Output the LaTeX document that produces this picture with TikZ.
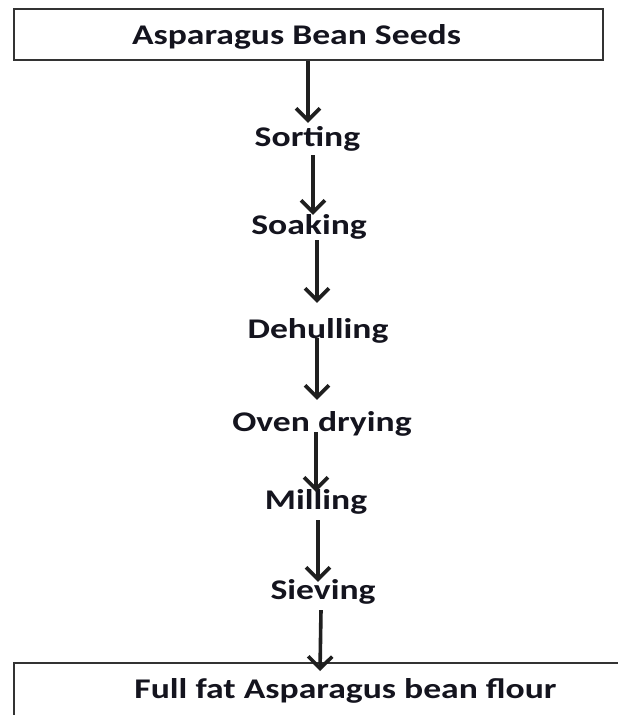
\documentclass[tikz,border=0pt]{standalone}
\usepackage{fontspec}
\usepackage{graphicx}
\usetikzlibrary{arrows.meta}
\newfontfamily\flowfont{Carlito}
% wide bold label text
\newcommand{\stepname}[1]{\scalebox{1.25}[1]{#1}}
\definecolor{inkline}{HTML}{333333}
\definecolor{inktext}{HTML}{14141E}
\begin{document}
\begin{tikzpicture}[x=1pt,y=-1pt,
  boxstyle/.style={draw=inkline,line width=2pt,rectangle,inner sep=0pt},
  steplabel/.style={inner sep=0pt,anchor=base,text height=20pt,text depth=7pt,
    text=inktext,font=\flowfont\bfseries\fontsize{28.5}{30}\selectfont},
  flowarrow/.style={draw=black!88,line width=3.6pt,
    -{Straight Barb[length=12pt,width=24pt,line width=3.6pt]}}]
\clip (0,0) rectangle (618,715);
\fill[white] (0,0) rectangle (618,715);

% input and output boxes
\node[boxstyle,minimum width=589pt,minimum height=51pt] (seeds) at (308.5,34.5) {};
\node[boxstyle,minimum width=706pt,minimum height=97pt] (flourbox) at (367,711.5) {};
\node[steplabel] (seedsText) at (296.5,44) {\stepname{Asparagus Bean Seeds}};
\node[steplabel] (flourText) at (345.5,698) {\stepname{Full fat Asparagus bean flour}};

% processing steps
\node[steplabel] (sort)   at (307.5,146) {\stepname{Sorting}};
\node[steplabel] (soak)   at (309,234)   {\stepname{Soaking}};
\node[steplabel] (dehull) at (318,338)   {\stepname{Dehulling}};
\node[steplabel] (oven)   at (322,431)   {\stepname{Oven drying}};
\node[steplabel] (mill)   at (316,509)   {\stepname{Milling}};
\node[steplabel] (sieve)  at (323,599)   {\stepname{Sieving}};

% arrows between the steps
\draw[flowarrow] ([xshift=-0.5pt]seeds.south) -- ([xshift=0.5pt,yshift=3pt]sort.north);
\draw[flowarrow] ([xshift=5.5pt,yshift=-2pt]sort.south) -- ([xshift=4pt,yshift=-1pt]soak.north);
\draw[flowarrow] ([xshift=8pt,yshift=1pt]soak.south) -- ([xshift=-1pt,yshift=15pt]dehull.north);
\draw[flowarrow] ([xshift=-1pt,yshift=7pt]dehull.south) -- ([xshift=-5pt,yshift=11pt]oven.north);
\draw[flowarrow] ([xshift=-6pt,yshift=6pt]oven.south) -- ([yshift=-3pt]mill.north);
\draw[flowarrow] ([xshift=2pt,yshift=-4pt]mill.south) -- ([xshift=-5pt,yshift=-3pt]sieve.north);
\draw[flowarrow] ([xshift=-2pt,yshift=-4pt]sieve.south) -- ([xshift=307pt,yshift=-9pt]flourbox.north west);
\end{tikzpicture}
\end{document}
